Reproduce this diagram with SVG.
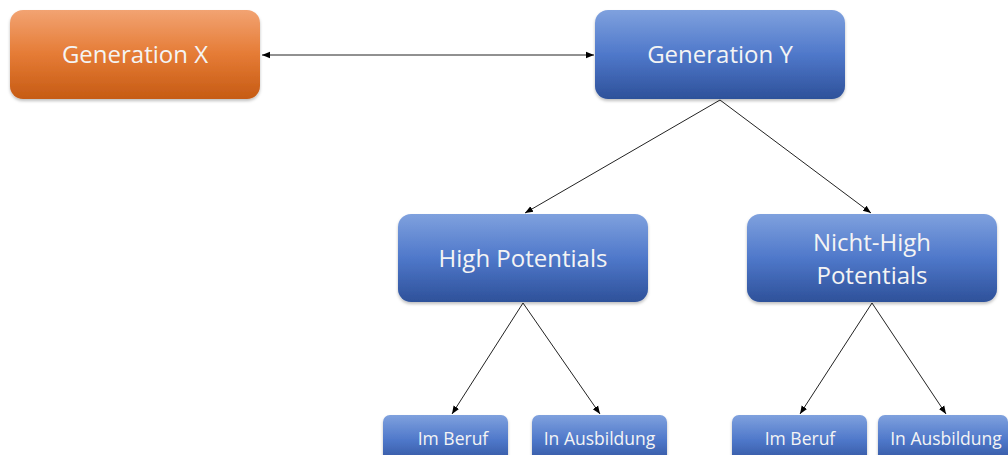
<svg xmlns="http://www.w3.org/2000/svg" width="1008" height="455" viewBox="0 0 1008 455">
<defs>
<linearGradient id="gO" x1="0" y1="0" x2="0" y2="1">
<stop offset="0" stop-color="#F2A372"/>
<stop offset="0.5" stop-color="#E57B35"/>
<stop offset="1" stop-color="#C65B14"/>
</linearGradient>
<linearGradient id="gB" x1="0" y1="0" x2="0" y2="1">
<stop offset="0" stop-color="#7FA1DE"/>
<stop offset="0.5" stop-color="#4F78CA"/>
<stop offset="1" stop-color="#2E519A"/>
</linearGradient>
<marker id="ah" viewBox="0 0 10 10" refX="10" refY="5" markerWidth="8" markerHeight="8" markerUnits="userSpaceOnUse" orient="auto-start-reverse">
<path d="M0,1 L10,5 L0,9 z" fill="#000"/>
</marker>
<filter id="sh" x="-10%" y="-10%" width="120%" height="130%">
<feDropShadow dx="0" dy="2" stdDeviation="1.5" flood-color="#000" flood-opacity="0.25"/>
</filter>
</defs>
<style>
.o{fill:url(#gO);filter:url(#sh)}
.b{fill:url(#gB);filter:url(#sh)}
.t{font-family:"Open Sans","Liberation Sans",sans-serif;fill:#F4F4F4;text-anchor:middle}
.big{font-size:24px}
.sm{font-size:17.5px}
.c{stroke:#222;stroke-width:1;fill:none;marker-end:url(#ah)}
</style>
<g id="connectors">
<line class="c" x1="262" y1="55" x2="594" y2="55" marker-start="url(#ah)"/>
<line class="c" x1="720" y1="100" x2="525" y2="213"/>
<line class="c" x1="720" y1="100" x2="871" y2="213"/>
<line class="c" x1="523" y1="303" x2="452" y2="414"/>
<line class="c" x1="523" y1="303" x2="600" y2="414"/>
<line class="c" x1="872" y1="303" x2="800" y2="414"/>
<line class="c" x1="872" y1="303" x2="946" y2="414"/>
</g>
<g id="genX">
<rect class="o" x="10" y="10" width="250" height="89" rx="13"/>
<text class="t big" x="135" y="63">Generation X</text>
</g>
<g id="genY">
<rect class="b" x="595" y="10" width="250" height="89" rx="13"/>
<text class="t big" x="720" y="63">Generation Y</text>
</g>
<g id="hp">
<rect class="b" x="398" y="214" width="250" height="88" rx="13"/>
<text class="t big" x="523" y="267">High Potentials</text>
</g>
<g id="nhp">
<rect class="b" x="747" y="214" width="250" height="88" rx="13"/>
<text class="t big" x="872" y="251">Nicht-High</text>
<text class="t big" x="872" y="284">Potentials</text>
</g>
<g id="hpBeruf">
<rect class="b" x="383" y="415" width="125" height="50" rx="7"/>
<text class="t sm" x="453" y="445">Im Beruf</text>
</g>
<g id="hpAusb">
<rect class="b" x="532" y="415" width="135" height="50" rx="7"/>
<text class="t sm" x="599.5" y="445">In Ausbildung</text>
</g>
<g id="nhpBeruf">
<rect class="b" x="732" y="415" width="135" height="50" rx="7"/>
<text class="t sm" x="800" y="445">Im Beruf</text>
</g>
<g id="nhpAusb">
<rect class="b" x="878" y="415" width="130" height="50" rx="7"/>
<text class="t sm" x="946" y="445">In Ausbildung</text>
</g>
</svg>
